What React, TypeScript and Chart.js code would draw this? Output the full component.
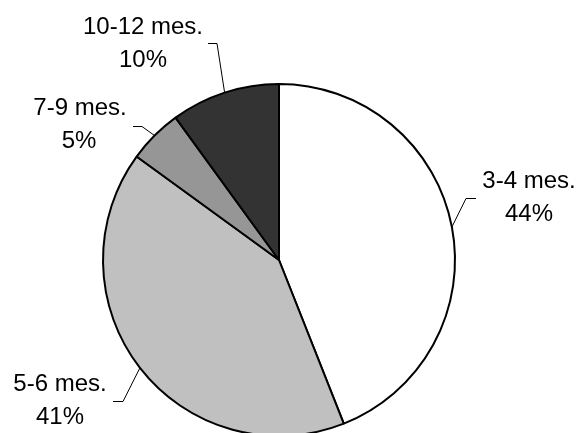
import React, { useEffect, useRef } from "react";
import { Chart, registerables } from "chart.js";

Chart.register(...registerables);

const categories = ["3-4 mes.", "5-6 mes.", "7-9 mes.", "10-12 mes."];
const values = [44, 41, 5, 10];
const percentLabels = ["44%", "41%", "5%", "10%"];
const colors = ["#ffffff", "#c0c0c0", "#969696", "#333333"];

// Label layout (text centres / first baseline, leader elbow and end)
const labelLayout = [
  { tx1: 529, tx2: 529, ty: 188, ex: 466, ey: 198, hx: 476 },
  { tx1: 60, tx2: 60, ty: 391, ex: 123, ey: 401, hx: 113 },
  { tx1: 80, tx2: 79, ty: 115, ex: 142, ey: 126, hx: 133 },
  { tx1: 143, tx2: 143, ty: 34, ex: 217, ey: 43, hx: 208 },
];

const labelPlugin = {
  id: "excelLabels",
  afterDraw(chart: any) {
    const ctx = chart.ctx as CanvasRenderingContext2D;
    const meta = chart.getDatasetMeta(0);
    ctx.save();
    meta.data.forEach((arc: any, i: number) => {
      const p = arc.getProps(["x", "y", "startAngle", "endAngle", "outerRadius"], true);
      const mid = (p.startAngle + p.endAngle) / 2;
      const px = p.x + Math.cos(mid) * p.outerRadius;
      const py = p.y + Math.sin(mid) * p.outerRadius;
      const L = labelLayout[i];
      ctx.strokeStyle = "#000";
      ctx.lineWidth = 1;
      ctx.beginPath();
      ctx.moveTo(px, py);
      ctx.lineTo(L.ex, L.ey + 0.5);
      ctx.lineTo(L.hx, L.ey + 0.5);
      ctx.stroke();
      ctx.fillStyle = "#000";
      ctx.font = "24px 'Liberation Sans', Arial, sans-serif";
      ctx.textAlign = "center";
      ctx.textBaseline = "alphabetic";
      ctx.fillText(categories[i], L.tx1, L.ty);
      ctx.fillText(percentLabels[i], L.tx2, L.ty + 33);
    });
    ctx.restore();
  },
};

export default function App() {
  const ref = useRef<HTMLCanvasElement | null>(null);
  useEffect(() => {
    if (!ref.current) return;
    const chart = new Chart(ref.current, {
      type: "pie",
      data: {
        labels: categories,
        datasets: [
          {
            data: values,
            backgroundColor: colors,
            borderColor: "#000000",
            borderWidth: 2,
          },
        ],
      },
      options: {
        responsive: false,
        animation: false,
        devicePixelRatio: 1,
        radius: 176,
        layout: { padding: { left: 0, right: 21, top: 80, bottom: 0 } },
        plugins: {
          legend: { display: false },
          tooltip: { enabled: false },
        },
      } as any,
      plugins: [labelPlugin],
    });
    return () => chart.destroy();
  }, []);
  return (
    <div style={{ position: "fixed", left: 0, top: 0, width: 579, height: 440, background: "#fff" }}>
      <canvas ref={ref} width={579} height={440} style={{ display: "block" }} />
    </div>
  );
}
